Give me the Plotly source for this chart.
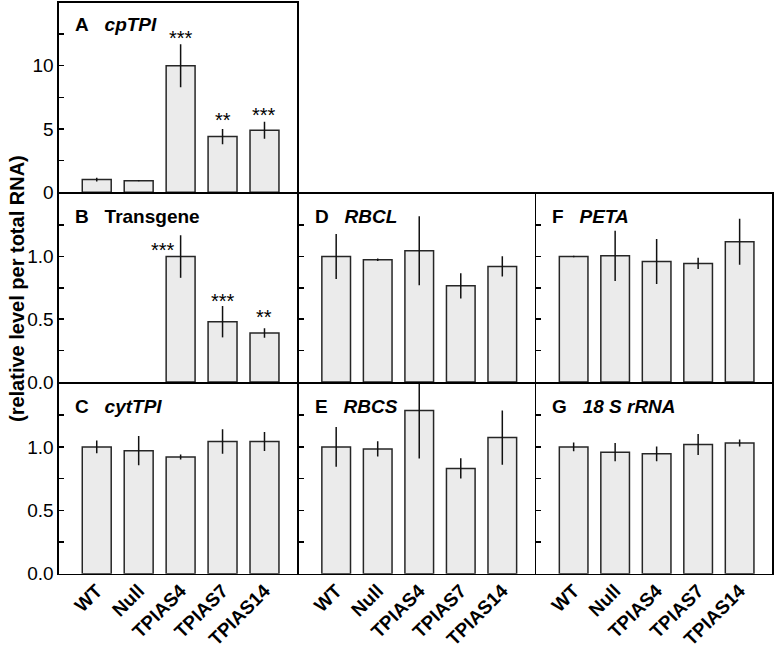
import plotly.graph_objects as go

categories = ["WT", "Null", "TPIAS4", "TPIAS7", "TPIAS14"]

# panel values (mean) and error (±)
cpTPI_val = [1.0, 0.9, 10.0, 4.4, 4.9]
cpTPI_err = [0.15, 0.04, 1.7, 0.6, 0.68]
cpTPI_sig = ["", "", "***", "**", "***"]

transgene_val = [None, None, 1.0, 0.48, 0.39]
transgene_err = [0, 0, 0.17, 0.125, 0.038]
transgene_sig = ["", "", "***", "***", "**"]

cytTPI_val = [1.0, 0.97, 0.92, 1.043, 1.043]
cytTPI_err = [0.05, 0.115, 0.02, 0.097, 0.075]

RBCL_val = [1.0, 0.975, 1.045, 0.766, 0.921]
RBCL_err = [0.18, 0.01, 0.275, 0.1, 0.08]

RBCS_val = [1.0, 0.984, 1.287, 0.83, 1.074]
RBCS_err = [0.157, 0.06, 0.378, 0.08, 0.214]

PETA_val = [1.0, 1.005, 0.96, 0.945, 1.118]
PETA_err = [0.005, 0.2, 0.18, 0.045, 0.183]

rRNA_val = [1.0, 0.958, 0.945, 1.019, 1.031]
rRNA_err = [0.034, 0.072, 0.059, 0.083, 0.028]

ticks_small = [0, 0.25, 0.5, 0.75, 1.0, 1.25]
ticks_small_text = ["0.0", "", "0.5", "", "1.0", ""]
ticks_big = [0, 2.5, 5, 7.5, 10, 12.5]
ticks_big_text = ["0", "", "5", "", "10", ""]

W, H = 777, 650
FONT = "Liberation Sans, Arial, sans-serif"
LW = 1.6
h = LW / 2

def px_x(a, b):
    return [a / W, b / W]

def px_y(top, bottom):
    return [1 - bottom / H, 1 - top / H]

cols = [px_x(59, 298 - h), px_x(298 + h, 535.5 - h), px_x(535.5 + h, 772)]
rows = [px_y(2.5, 193 - h), px_y(193 + h, 382.7 - h), px_y(382.7 + h, 573.7)]

# (key, title html, values, errors, sig, row, col)
panels = [
    ("A", "<b>A</b>&nbsp;&nbsp;&nbsp;<b><i>cpTPI</i></b>", cpTPI_val, cpTPI_err, cpTPI_sig, 0, 0),
    ("B", "<b>B</b>&nbsp;&nbsp;&nbsp;<b>Transgene</b>", transgene_val, transgene_err, transgene_sig, 1, 0),
    ("C", "<b>C</b>&nbsp;&nbsp;&nbsp;<b><i>cytTPI</i></b>", cytTPI_val, cytTPI_err, None, 2, 0),
    ("D", "<b>D</b>&nbsp;&nbsp;&nbsp;<b><i>RBCL</i></b>", RBCL_val, RBCL_err, None, 1, 1),
    ("E", "<b>E</b>&nbsp;&nbsp;&nbsp;<b><i>RBCS</i></b>", RBCS_val, RBCS_err, None, 2, 1),
    ("F", "<b>F</b>&nbsp;&nbsp;&nbsp;<b><i>PETA</i></b>", PETA_val, PETA_err, None, 1, 2),
    ("G", "<b>G</b>&nbsp;&nbsp;&nbsp;<b><i>18 S rRNA</i></b>", rRNA_val, rRNA_err, None, 2, 2),
]

# star label placement (pixel offsets from error-bar top)
star_style = {
    ("A", 2): (0, 10), ("A", 3): (0, 13), ("A", 4): (0, 11),
    ("B", 2): (-18, -11), ("B", 3): (0, 9), ("B", 4): (0, 15),
}

bold_cats = [f"<b>{c}</b>" for c in categories]

fig = go.Figure()
annotations = []
layout = {}
for i, (key, title, vals, errs, sig, r, c) in enumerate(panels):
    n = i + 1
    xa = "x" if n == 1 else f"x{n}"
    ya = "y" if n == 1 else f"y{n}"
    xname = "xaxis" if n == 1 else f"xaxis{n}"
    yname = "yaxis" if n == 1 else f"yaxis{n}"
    fig.add_trace(go.Bar(
        x=categories, y=vals, xaxis=xa, yaxis=ya, width=0.69,
        marker=dict(color="#ebebeb", line=dict(color="#262626", width=1.5)),
        error_y=dict(type="data", array=errs, visible=True, color="#111111",
                     thickness=1.5, width=0),
        showlegend=False, hoverinfo="skip",
    ))
    big = key == "A"
    layout[xname] = dict(
        domain=cols[c], anchor=ya, range=[-0.9, 4.78], type="category",
        tickmode="array", tickvals=categories, ticktext=bold_cats,
        showline=True, linecolor="black", linewidth=LW, mirror=True,
        ticks="", showticklabels=(r == 2), tickangle=-45, ticklabelstandoff=-3,
        tickfont=dict(family=FONT, size=19, color="black"),
        showgrid=False, zeroline=False, automargin=False,
    )
    layout[yname] = dict(
        domain=rows[r], anchor=xa, range=[0, 15] if big else [0, 1.5],
        tickvals=ticks_big if big else ticks_small,
        ticktext=ticks_big_text if big else ticks_small_text,
        showline=True, linecolor="black", linewidth=LW, mirror=True,
        ticks="inside", ticklen=5, tickwidth=1.5, tickcolor="black",
        showticklabels=(c == 0), ticklabelstandoff=0,
        tickfont=dict(family=FONT, size=19, color="black"),
        showgrid=False, zeroline=False, automargin=False,
    )
    annotations.append(dict(
        text=title, xref=f"{xa} domain", yref=f"{ya} domain", x=0, y=1,
        xanchor="left", yanchor="top", xshift=14, yshift=-10, showarrow=False,
        font=dict(family=FONT, size=19, color="black"),
    ))
    if sig:
        for j, s in enumerate(sig):
            if not s:
                continue
            dx, dy = star_style[(key, j)]
            annotations.append(dict(
                text=s, xref=xa, yref=ya, x=categories[j], y=vals[j] + errs[j],
                xanchor="center", yanchor="middle", xshift=dx, yshift=dy - 4,
                showarrow=False, font=dict(family=FONT, size=20, color="black"),
            ))

annotations.append(dict(
    text="<b>(relative level per total RNA)</b>", xref="paper", yref="paper",
    x=17 / W, y=1 - 289 / H, xanchor="center", yanchor="middle",
    textangle=-90, showarrow=False, font=dict(family=FONT, size=20, color="black"),
))

fig.update_layout(
    width=W, height=H, margin=dict(l=0, r=0, t=0, b=0),
    paper_bgcolor="white", plot_bgcolor="white", template="none",
    annotations=annotations, **layout,
)

fig.write_html(
    "out.html",
    config={"displayModeBar": False, "staticPlot": True},
    post_script="document.body.style.margin='0';document.body.style.overflow='hidden';",
)
